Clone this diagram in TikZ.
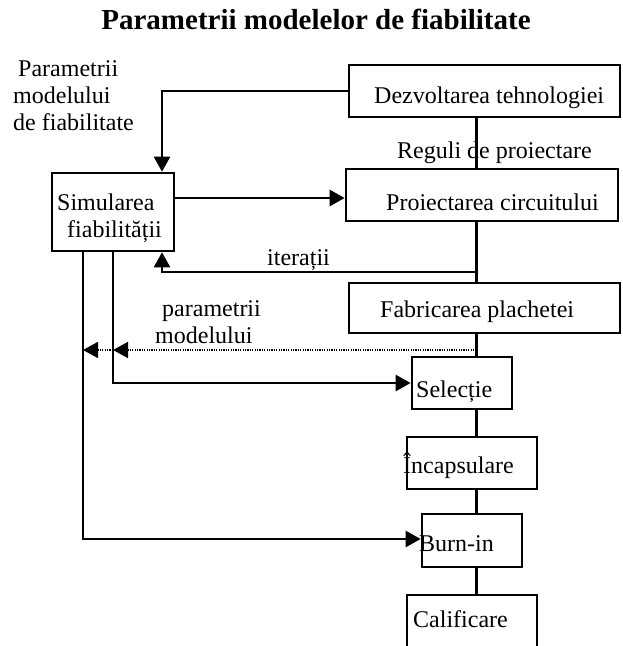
\documentclass[tikz,border=0pt]{standalone}
\usepackage{fontspec}
\setmainfont{Liberation Serif}
\usetikzlibrary{arrows.meta}
\begin{document}
\begin{tikzpicture}[x=1pt,y=-1pt,
  box/.style={draw,line width=2.7pt,inner sep=0pt,minimum width=#1},
  txt/.style={anchor=base west,inner sep=0pt,font=\fontsize{24}{27}\selectfont},
  tip/.style={-{Triangle[length=15pt,width=16pt]}},
  link/.style={line width=2.6pt},
  arr/.style={link,tip},
  dots/.style={line width=1.7pt,dash pattern=on 1.2pt off 1.2pt,tip}]
\clip (0,0) rectangle (623,646);

% title
\node[anchor=base,inner sep=0pt,font=\fontsize{29}{33}\selectfont\bfseries] (title) at (316,29) {Parametrii modelelor de fiabilitate};

% boxes
\node[box=271pt,minimum height=52pt] (dez)  at (484.5,91)  {};
\node[box=122pt,minimum height=78pt] (sim)  at (113,212)   {};
\node[box=272pt,minimum height=52pt] (proj) at (482,195)   {};
\node[box=271pt,minimum height=50pt] (fab)  at (484.5,308) {};
\node[box=100pt,minimum height=52pt] (sel)  at (462,383)   {};
\node[box=130pt,minimum height=52pt] (inc)  at (472,463)   {};
\node[box=100pt,minimum height=53pt] (burn) at (472,540.5) {};
\node[box=130pt,minimum height=55pt] (cal)  at (472,622.5) {};

% box texts
\node[txt] (tdez)  at (374,103) {Dezvoltarea tehnologiei};
\node[txt] (tproj) at (386,210) {Proiectarea circuitului};
\node[txt] (tfab)  at (380,317) {Fabricarea plachetei};
\node[txt] (tsel)  at (416,397) {Selecție};
\node[txt] (tinc)  at (403,473) {Încapsulare};
\node[txt] (tburn) at (419,551) {Burn-in};
\node[txt] (tcal)  at (413,627) {Calificare};
\node[txt] (tsim1) at (57,210)  {Simularea};
\node[txt] (tsim2) at (67,237)  {fiabilității};

% free labels
\node[txt] (p1) at (18,76)  {Parametrii};
\node[txt] (p2) at (13,103) {modelului};
\node[txt] (p3) at (13,130) {de fiabilitate};
\node[txt] (reg) at (397,158) {Reguli de proiectare};
\node[txt] (iter) at (267,265) {iterații};
\node[txt] (pm1) at (162,316) {parametrii};
\node[txt] (pm2) at (155,343) {modelului};

% main flow spine
\coordinate (sp) at (476.5,0);
\coordinate (it) at (476.5,272);
\coordinate (dt) at (476.5,350);
\coordinate (l1) at (83,0);
\coordinate (l2) at (113,0);

\draw[link] (dez.south -| sp) -- (proj.north -| sp);
\draw[link] (proj.south -| sp) -- (fab.north -| sp);
\draw[link] (fab.south -| sp) -- (sel.north -| sp);
\draw[link] (sel.south -| sp) -- (inc.north -| sp);
\draw[link] (inc.south -| sp) -- (burn.north -| sp);
\draw[link] (burn.south -| sp) -- (cal.north -| sp);

% feedback and feed-forward paths
\draw[arr] (dez.west) -| ([xshift=49pt]sim.north);
\draw[arr] ([yshift=14pt]sim.east) -- ([yshift=14pt]sim.east -| proj.west);
\draw[arr] (it) -| ([xshift=49pt]sim.south);
\draw[dots] (dt) -- (dt -| l2);
\draw[dots] (dt -| l2) -- (dt -| l1);
\draw[arr] (sim.south -| l2) |- (sel.west);
\draw[arr] (sim.south -| l1) |- ([yshift=1.5pt]burn.west);
\end{tikzpicture}
\end{document}
